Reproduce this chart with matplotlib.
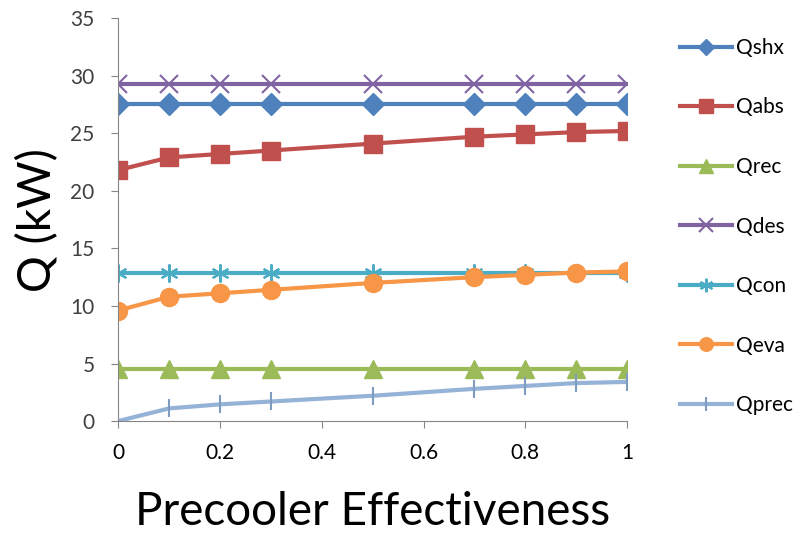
import matplotlib.pyplot as plt

x = [0, 0.1, 0.2, 0.3, 0.5, 0.7, 0.8, 0.9, 1.0]
q_shx = [27.5, 27.5, 27.5, 27.5, 27.5, 27.5, 27.5, 27.5, 27.5]
q_abs = [21.8, 22.9, 23.2, 23.5, 24.1, 24.7, 24.9, 25.1, 25.2]
q_rec = [4.5, 4.5, 4.5, 4.5, 4.5, 4.5, 4.5, 4.5, 4.5]
q_des = [29.3, 29.3, 29.3, 29.3, 29.3, 29.3, 29.3, 29.3, 29.3]
q_con = [12.9, 12.9, 12.9, 12.9, 12.9, 12.9, 12.9, 12.9, 12.9]
q_eva = [9.6, 10.8, 11.1, 11.4, 12.0, 12.5, 12.7, 12.9, 13.0]
q_prec = [0.0, 1.1, 1.45, 1.7, 2.2, 2.8, 3.05, 3.3, 3.4]

plt.rcParams['font.family'] = ['Lato', 'DejaVu Sans']

fig = plt.figure(figsize=(8.04, 5.33), dpi=100)
ax = fig.add_axes([0.147, 0.21, 0.633, 0.756])

ax.plot(x, q_shx, color='#4F81BD', lw=3, marker='D', ms=11, label='Qshx')
ax.plot(x, q_abs, color='#C0504D', lw=3, marker='s', ms=13, label='Qabs')
ax.plot(x, q_rec, color='#9BBB59', lw=3, marker='^', ms=13, label='Qrec')
ax.plot(x, q_des, color='#8064A2', lw=3, marker='x', ms=13, mew=1.5, label='Qdes')
ax.plot(x, q_con, color='#4BACC6', lw=3, marker=(6, 2, 0), ms=13, mew=1.5, label='Qcon')
ax.plot(x, q_eva, color='#F79646', lw=3, marker='o', ms=13, label='Qeva')
ax.plot(x, q_prec, color='#95B3D7', lw=3, marker='|', ms=13, mew=1.5, mec='#7F9CC0', label='Qprec')

ax.set_xlim(0, 1)
ax.set_ylim(0, 35)
ax.set_xticks([0, 0.2, 0.4, 0.6, 0.8, 1])
ax.set_xticklabels(['0', '0.2', '0.4', '0.6', '0.8', '1'])
ax.set_yticks(range(0, 36, 5))

for side in ['top', 'right']:
    ax.spines[side].set_visible(False)
for side in ['left', 'bottom']:
    ax.spines[side].set_color('#868686')
ax.tick_params(colors='#868686', labelcolor='#404040', labelsize=15, length=5)
ax.tick_params(axis='y', pad=12)
ax.tick_params(axis='x', pad=11)
for lbl in ax.get_xticklabels():
    lbl.set_color('black')

ax.set_xlabel('Precooler Effectiveness', fontsize=33, labelpad=20)
ax.set_ylabel('Q (kW)', fontsize=33, labelpad=8)

ax.legend(loc='upper left', bbox_to_anchor=(0.846, 0.929), bbox_transform=fig.transFigure,
          frameon=False, borderaxespad=0, borderpad=0, markerscale=0.75,
          fontsize=15, labelspacing=1.9, handlelength=2.5, handletextpad=0.2)

fig.savefig('out.png', dpi=100)
